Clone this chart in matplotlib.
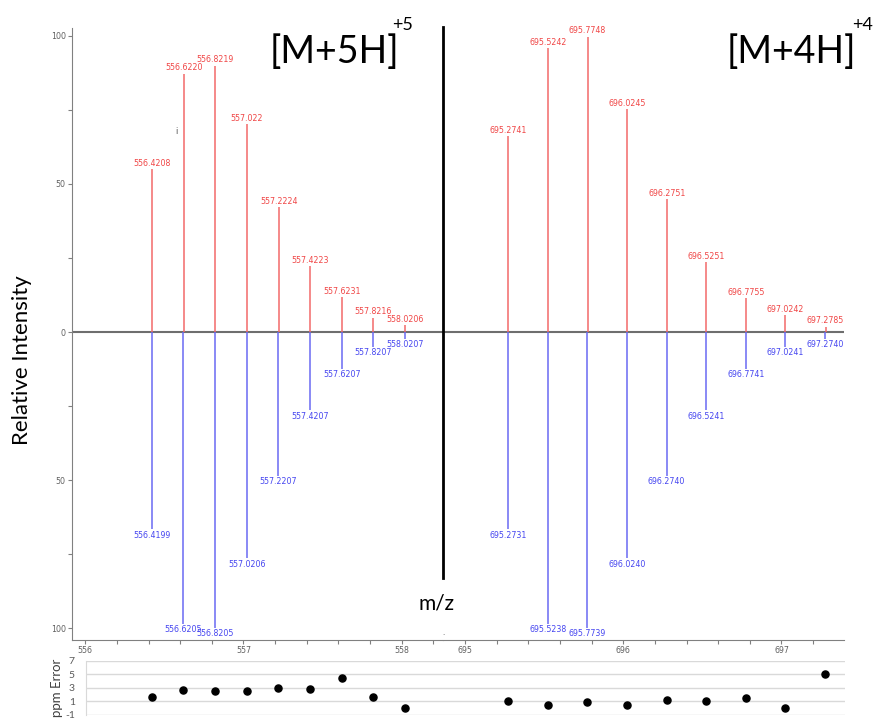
import matplotlib
matplotlib.use("Agg")
import matplotlib.pyplot as plt
import matplotlib.font_manager as fm
from matplotlib.ticker import MultipleLocator, FixedLocator, FuncFormatter

names = {f.name for f in fm.fontManager.ttflist}
if "Liberation Sans Narrow" in names:
    SMALL_FAM, SMALL_SZ = "Liberation Sans Narrow", 7.3
else:
    SMALL_FAM, SMALL_SZ = "DejaVu Sans", 5.7
BIG = "Lato" if "Lato" in names else "DejaVu Sans"
plt.rcParams.update({"font.family": SMALL_FAM, "font.size": SMALL_SZ,
                     "axes.unicode_minus": False})

RED, BLUE = "#f04646", "#4646f0"
RED_LN, BLUE_LN = "#f26a6a", "#6a6af2"

# [M+5H]+5 : observed (red, up) and theoretical (blue, down)
mz5_obs = ["556.4208", "556.6220", "556.8219", "557.022", "557.2224",
           "557.4223", "557.6231", "557.8216", "558.0206"]
int5_obs = [55, 87.2, 90, 70.3, 42.2, 22.3, 11.8, 4.8, 2.4]
mz5_th = ["556.4199", "556.6205", "556.8205", "557.0206", "557.2207",
          "557.4207", "557.6207", "557.8207", "558.0207"]
int5_th = [66.6, 98.6, 100, 76.4, 48.6, 26.4, 12.5, 5.1, 2.4]
ppm5 = [1.6, 2.65, 2.5, 2.5, 3.0, 2.8, 4.4, 1.6, -0.1]

# [M+4H]+4
mz4_obs = ["695.2741", "695.5242", "695.7748", "696.0245", "696.2751",
           "696.5251", "696.7755", "697.0242", "697.2785"]
int4_obs = [66.2, 95.9, 99.7, 75.3, 44.9, 23.6, 11.5, 5.7, 1.8]
mz4_th = ["695.2731", "695.5238", "695.7739", "696.0240", "696.2740",
          "696.5241", "696.7741", "697.0241", "697.2740"]
int4_th = [66.6, 98.6, 100, 76.4, 48.6, 26.4, 12.5, 5.1, 2.4]
ppm4 = [1.0, 0.4, 0.85, 0.4, 1.15, 1.0, 1.45, -0.1, 5.05]

W, H = 877, 721
fig = plt.figure(figsize=(W / 100, H / 100), dpi=100)

def box(x0, y0, x1, y1):
    return [x0 / W, 1 - y1 / H, (x1 - x0) / W, (y1 - y0) / H]

ax1 = fig.add_axes(box(72, 28, 443, 640))
ax2 = fig.add_axes(box(443, 28, 844, 640))
ax1.set_xlim(555.916, 558.261)
ax2.set_xlim(694.861, 697.395)

for ax, mo, io, mt, it in [(ax1, mz5_obs, int5_obs, mz5_th, int5_th),
                           (ax2, mz4_obs, int4_obs, mz4_th, int4_th)]:
    ax.set_ylim(-104.05, 102.7)
    ax.axhline(0, color="#6e6e6e", lw=1.5, zorder=1)
    xo = [float(m) for m in mo]
    xt = [float(m) for m in mt]
    ax.vlines(xo, 0, io, color=RED_LN, lw=1.1, zorder=2)
    ax.vlines(xt, 0, [-v for v in it], color=BLUE_LN, lw=1.1, zorder=2)
    for s, x, v in zip(mo, xo, io):
        ax.annotate(s, (x, v), xytext=(0, 1), textcoords="offset points",
                    ha="center", va="bottom", color=RED)
    for s, x, v in zip(mt, xt, it):
        ax.annotate(s, (x, -v), xytext=(0, -1), textcoords="offset points",
                    ha="center", va="top", color=BLUE)
    ax.xaxis.set_major_locator(MultipleLocator(1))
    ax.xaxis.set_minor_locator(MultipleLocator(0.2))
    ax.xaxis.set_major_formatter(FuncFormatter(lambda v, p: f"{v:.0f}"))
    ax.tick_params(axis="both", which="both", direction="out", length=3,
                   width=0.8, color="#808080", labelcolor="#606060", pad=1.5)
    for side in ("top", "right"):
        ax.spines[side].set_visible(False)
    ax.spines["bottom"].set_color("#808080")
    ax.spines["left"].set_color("#808080")

ax1.yaxis.set_major_locator(FixedLocator([-100, -50, 0, 50, 100]))
ax1.yaxis.set_minor_locator(FixedLocator([-75, -25, 25, 75]))
ax1.yaxis.set_major_formatter(FuncFormatter(lambda v, p: f"{abs(v):.0f}"))
ax2.spines["left"].set_visible(False)
ax2.set_yticks([])

# separator between the two charge states
ax2.axvline(ax2.get_xlim()[0], ymin=(640 - 578) / 612, ymax=1.0015,
            color="black", lw=2, clip_on=False, zorder=5)

# ppm error panel
PT, PB = 661, 714.5
axp = fig.add_axes(box(86, PT, 845, PB))
axp.set_ylim(-1, 7)
axp.set_yticks([-1, 1, 3, 5, 7])
axp.set_xticks([])
axp.grid(axis="y", color="#d9d9d9", lw=1)
axp.set_axisbelow(True)
for side in ("top", "right", "bottom"):
    axp.spines[side].set_visible(False)
axp.spines["left"].set_color("#d9d9d9")
axp.tick_params(axis="y", length=0, pad=8, labelcolor="#595959")
for lbl in axp.get_yticklabels():
    lbl.set_fontfamily(BIG)
    lbl.set_fontsize(7.5)

for xl, mt, pp in [((555.916, 558.261), mz5_th, ppm5),
                   ((694.861, 697.395), mz4_th, ppm4)]:
    x0 = 72 if xl[0] < 600 else 443
    x1 = 443 if xl[0] < 600 else 844
    axo = fig.add_axes(box(x0, PT, x1, PB))
    axo.set_xlim(*xl)
    axo.set_ylim(-1, 7)
    axo.axis("off")
    axo.scatter([float(m) for m in mt], pp, s=26, color="black", zorder=5,
                clip_on=False)

# text
fig.text(270 / W, 1 - 63 / H, "[M+5H]", family=BIG, fontsize=27, ha="left",
         va="baseline", color="black")
fig.text(392 / W, 1 - 30 / H, "+5", family=BIG, fontsize=13, ha="left",
         va="baseline", color="black")
fig.text(727 / W, 1 - 63 / H, "[M+4H]", family=BIG, fontsize=27, ha="left",
         va="baseline", color="black")
fig.text(852 / W, 1 - 30 / H, "+4", family=BIG, fontsize=13, ha="left",
         va="baseline", color="black")
fig.text(437 / W, 1 - 604 / H, "m/z", family=BIG, fontsize=15, ha="center",
         va="center", color="black")
fig.text(22 / W, 1 - 360 / H, "Relative Intensity", family=BIG, fontsize=16,
         rotation=90, ha="center", va="center", color="black")
fig.text(57 / W, 1 - 688 / H, "ppm Error", family=BIG, fontsize=9.5,
         rotation=90, ha="center", va="center", color="#404040")
fig.text(176 / W, 1 - 131 / H, "i", fontsize=6, color="#555555",
         ha="center", va="center")
fig.text(443 / W, 1 - 633 / H, ".", fontsize=5, color="#555555",
         ha="center", va="center")

fig.savefig("out.png", dpi=100, facecolor="white")
